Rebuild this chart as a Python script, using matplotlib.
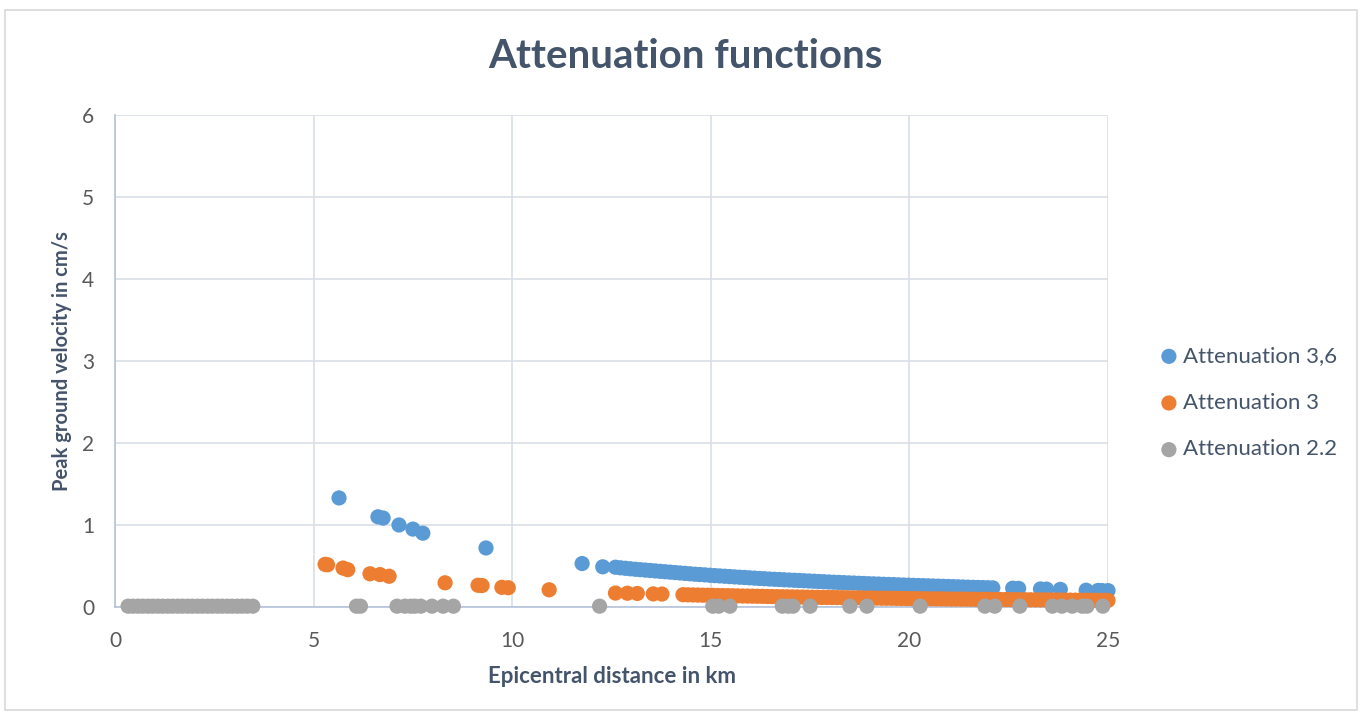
import matplotlib
matplotlib.use("Agg")
import matplotlib.pyplot as plt
from matplotlib.patches import Rectangle

# Epicentral distance (km) and peak ground velocity (cm/s) per attenuation model
dist_36 = [5.64, 6.62, 6.75, 7.15, 7.5, 7.75, 9.34, 11.76, 12.28,
           12.6, 12.725, 12.85, 12.975, 13.1, 13.225, 13.35, 13.475, 13.6,
           13.725, 13.85, 13.975, 14.1, 14.225, 14.35, 14.475, 14.6, 14.725,
           14.85, 14.975, 15.1, 15.225, 15.35, 15.475, 15.6, 15.725, 15.85,
           15.975, 16.1, 16.225, 16.35, 16.475, 16.6, 16.725, 16.85, 16.975,
           17.1, 17.225, 17.35, 17.475, 17.6, 17.725, 17.85, 17.975, 18.1,
           18.225, 18.35, 18.475, 18.6, 18.725, 18.85, 18.975, 19.1, 19.225,
           19.35, 19.475, 19.6, 19.725, 19.85, 19.975, 20.1, 20.225, 20.35,
           20.475, 20.6, 20.725, 20.85, 20.975, 21.1, 21.225, 21.35, 21.475,
           21.6, 21.725, 21.85, 21.975, 22.1,
           22.6, 22.75, 23.3, 23.45, 23.8, 24.45, 24.75, 24.85, 25.0]
pgv_36 = [1.33, 1.10, 1.085, 1.00, 0.95, 0.90, 0.72, 0.53, 0.49,
          0.485, 0.478, 0.472, 0.466, 0.460, 0.455, 0.450, 0.445, 0.440,
          0.435, 0.430, 0.425, 0.420, 0.415, 0.410, 0.405, 0.400, 0.396,
          0.392, 0.387, 0.383, 0.379, 0.375, 0.371, 0.367, 0.363, 0.360,
          0.356, 0.352, 0.348, 0.345, 0.341, 0.338, 0.335, 0.332, 0.329,
          0.326, 0.323, 0.320, 0.317, 0.314, 0.311, 0.308, 0.305, 0.302,
          0.300, 0.297, 0.294, 0.292, 0.289, 0.287, 0.284, 0.282, 0.280,
          0.277, 0.275, 0.273, 0.270, 0.268, 0.266, 0.264, 0.262, 0.260,
          0.258, 0.256, 0.254, 0.252, 0.250, 0.248, 0.246, 0.244, 0.242,
          0.240, 0.238, 0.237, 0.235, 0.233,
          0.229, 0.227, 0.22, 0.218, 0.215, 0.205, 0.202, 0.20, 0.20]

dist_3 = [5.29, 5.35, 5.74, 5.86, 6.42, 6.67, 6.9, 8.31, 9.14, 9.24, 9.74,
          9.9, 10.93, 12.6, 12.9, 13.15, 13.55, 13.77,
          14.3, 14.425, 14.55, 14.675, 14.8, 14.925, 15.05, 15.175, 15.3,
          15.425, 15.55, 15.675, 15.8, 15.925, 16.05, 16.175, 16.3, 16.425,
          16.55, 16.675, 16.8, 16.925, 17.05, 17.175, 17.3, 17.425, 17.55,
          17.675, 17.8, 17.925, 18.05, 18.175, 18.3, 18.425, 18.55, 18.675,
          18.8, 18.925, 19.05, 19.175, 19.3, 19.425, 19.55, 19.675, 19.8,
          19.925, 20.05, 20.175, 20.3, 20.425, 20.55, 20.675, 20.8, 20.925,
          21.05, 21.175, 21.3, 21.425, 21.55, 21.675, 21.8, 21.925, 22.05,
          22.175, 22.3, 22.425, 22.55, 22.675, 22.8, 22.925, 23.05, 23.175,
          23.3, 23.425, 23.55, 23.675, 23.8, 23.925, 24.05, 24.175, 24.3,
          24.425, 24.55, 24.675, 24.8, 24.925, 25.0]
pgv_3 = [0.52, 0.515, 0.475, 0.455, 0.405, 0.395, 0.375, 0.295, 0.265, 0.262,
         0.24, 0.235, 0.21, 0.17, 0.168, 0.165, 0.16, 0.158,
         0.150, 0.1485, 0.147, 0.1455, 0.144, 0.143, 0.142, 0.1405, 0.139,
         0.138, 0.137, 0.1355, 0.134, 0.133, 0.132, 0.131, 0.130, 0.1285,
         0.127, 0.126, 0.125, 0.124, 0.123, 0.122, 0.121, 0.120, 0.119,
         0.118, 0.117, 0.1165, 0.116, 0.115, 0.114, 0.113, 0.112, 0.111,
         0.110, 0.1095, 0.109, 0.108, 0.107, 0.1065, 0.106, 0.105, 0.104,
         0.1035, 0.103, 0.102, 0.101, 0.1005, 0.100, 0.0995, 0.099, 0.098,
         0.097, 0.0965, 0.096, 0.0955, 0.095, 0.0945, 0.094, 0.0935, 0.093,
         0.092, 0.091, 0.0905, 0.090, 0.0895, 0.089, 0.0885, 0.088, 0.0875,
         0.087, 0.0865, 0.086, 0.0855, 0.085, 0.0845, 0.084, 0.0835, 0.083,
         0.0825, 0.082, 0.0815, 0.081, 0.0805, 0.080]

dist_22 = [0.33, 0.45, 0.58, 0.7, 0.83, 0.95, 1.08, 1.2, 1.33, 1.45, 1.58,
           1.7, 1.83, 1.95, 2.08, 2.2, 2.33, 2.45, 2.58, 2.7, 2.83, 2.95,
           3.08, 3.2, 3.33, 3.47,
           6.08, 6.18, 7.1, 7.3, 7.45, 7.55, 7.7, 7.98, 8.26, 8.52,
           12.2, 15.05, 15.2, 15.48, 16.8, 16.95, 17.07, 17.5, 18.5, 18.93,
           20.27, 21.9, 22.15, 22.78, 23.6, 23.84, 24.1, 24.35, 24.47, 24.87]
pgv_22 = [0.01] * len(dist_22)

series = [
    ("Attenuation 3,6", dist_36, pgv_36, "#5B9BD5"),
    ("Attenuation 3", dist_3, pgv_3, "#ED7D31"),
    ("Attenuation 2.2", dist_22, pgv_22, "#A5A5A5"),
]

x_ticks = [0, 5, 10, 15, 20, 25]
y_ticks = [0, 1, 2, 3, 4, 5, 6]

text_col = "#595959"
title_col = "#44546A"
grid_col = "#D9DEE6"
axis_col = "#B4C2D9"

plt.rcParams["font.family"] = ["Lato", "DejaVu Sans"]

fig = plt.figure(figsize=(13.64, 7.15), dpi=100)
ax = fig.add_axes([115 / 1364, 108 / 715, 993 / 1364, 492 / 715])

for i, (name, xs, ys, col) in enumerate(series):
    ax.scatter(xs, ys, s=120, color=col, edgecolors="none", label=name,
               zorder=3 + i, clip_on=False)

ax.set_xlim(0, 25)
ax.set_ylim(0, 6)
ax.set_xticks(x_ticks)
ax.set_yticks(y_ticks)
ax.grid(True, color=grid_col, linewidth=1.2, zorder=0)
ax.set_axisbelow(True)
for side in ("top", "right"):
    ax.spines[side].set_visible(False)
for side in ("left", "bottom"):
    ax.spines[side].set_color(axis_col)
    ax.spines[side].set_linewidth(1.2)
ax.tick_params(axis="x", length=0, labelsize=15, labelcolor=text_col, pad=17)
ax.tick_params(axis="y", length=0, labelsize=15, labelcolor=text_col, pad=15)

ax.set_xlabel("Epicentral distance in km", fontsize=16, fontweight="bold",
              color=title_col, labelpad=11)
ax.set_ylabel("Peak ground velocity in cm/s", fontsize=14.5, fontweight="bold",
              color=title_col, labelpad=7)

fig.text(685 / 1364, 1 - 57 / 715, "Attenuation functions", ha="center",
         va="center", fontsize=29, fontweight="bold", color=title_col)

leg = ax.legend(loc="center left", bbox_to_anchor=(1.03, 0.415), frameon=False,
                fontsize=16, handletextpad=-0.35, labelspacing=1.2,
                markerscale=1.0, borderaxespad=0)
for t in leg.get_texts():
    t.set_color(title_col)

fig.patches.append(Rectangle((5 / 1364, 5 / 715), 1352 / 1364, 700 / 715,
                             transform=fig.transFigure, fill=False,
                             edgecolor="#D9D9D9", linewidth=1.2))

fig.savefig("out.png", dpi=100, facecolor="white")
